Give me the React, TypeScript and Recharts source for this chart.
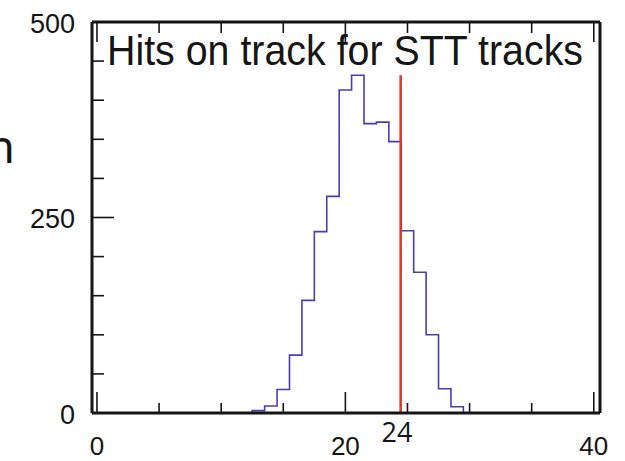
import React from "react";
import {
  ComposedChart,
  Line,
  XAxis,
  YAxis,
  ReferenceLine,
} from "recharts";

// bin centres (width 1) and entries per bin
const bins = [12, 13, 14, 15, 16, 17, 18, 19, 20, 21, 22, 23, 24, 25, 26, 27, 28, 29, 30];
const counts = [0, 3, 9, 30, 74, 144, 232, 277, 413, 432, 370, 372, 347, 233, 180, 100, 31, 8, 0];

const xTicks = [0, 5, 10, 15, 20, 25, 30, 35, 40];
const xLabels = [0, 20, 40];
const yTicks = [0, 50, 100, 150, 200, 250, 300, 350, 400, 450, 500];
const yLabels = [0, 250, 500];

const cutValue = 24.45;
const cutLabel = "24";
const cutTop = 432;

const title = "Hits on track for STT tracks";

const data = bins.map((b, i) => ({ bin: b, count: counts[i] }));

const FONT = "'Liberation Sans', Arial, sans-serif";
const INK = "#151515";

const BottomTick = (props: any) => {
  const { x, y, payload } = props;
  const major = xLabels.includes(payload.value);
  return (
    <g>
      <line x1={x} x2={x} y1={y} y2={y - (major ? 21 : 10)} stroke={INK} strokeWidth={1.6} />
      {major && (
        <text x={x} y={y + 42} textAnchor="middle" fontSize={26} fontFamily={FONT} fill={INK}>
          {payload.value}
        </text>
      )}
    </g>
  );
};

const TopTick = (props: any) => {
  const { x, y, payload } = props;
  const major = xLabels.includes(payload.value);
  return <line x1={x} x2={x} y1={y} y2={y + (major ? 20 : 11)} stroke={INK} strokeWidth={1.6} />;
};

const LeftTick = (props: any) => {
  const { x, y, payload } = props;
  const major = yLabels.includes(payload.value);
  return (
    <g>
      <line x1={x} x2={x + (major ? 22 : 12)} y1={y} y2={y} stroke={INK} strokeWidth={1.6} />
      {major && (
        <text x={x - 17} y={y + 10.5} textAnchor="end" fontSize={27} fontFamily={FONT} fill={INK}>
          {payload.value}
        </text>
      )}
    </g>
  );
};

const RightTick = (props: any) => {
  const { x, y, payload } = props;
  const major = yLabels.includes(payload.value);
  return <line x1={x} x2={x - (major ? 14 : 10)} y1={y} y2={y} stroke={INK} strokeWidth={1.6} />;
};

const frame = { stroke: INK, strokeWidth: 3 };

export default function App() {
  return (
    <div style={{ position: "absolute", left: 0, top: 0, background: "#fff" }}>
      <ComposedChart
        width={625}
        height={461}
        data={data}
        margin={{ top: 21, right: 24, bottom: 47, left: 91 }}
      >
        <XAxis
          dataKey="bin"
          type="number"
          domain={[-0.4, 40.5]}
          ticks={xTicks}
          allowDataOverflow
          height={1}
          tickSize={0}
          tickMargin={0}
          tickLine={false}
          axisLine={frame}
          tick={<BottomTick />}
          interval={0}
        />
        <XAxis
          xAxisId="top"
          orientation="top"
          dataKey="bin"
          type="number"
          domain={[-0.4, 40.5]}
          ticks={xTicks}
          allowDataOverflow
          height={1}
          tickSize={0}
          tickMargin={0}
          tickLine={false}
          axisLine={frame}
          tick={<TopTick />}
          interval={0}
        />
        <YAxis
          type="number"
          domain={[0, 500]}
          ticks={yTicks}
          width={1}
          tickSize={0}
          tickMargin={0}
          tickLine={false}
          axisLine={frame}
          tick={<LeftTick />}
          interval={0}
        />
        <YAxis
          yAxisId="right"
          orientation="right"
          type="number"
          domain={[0, 500]}
          ticks={yTicks}
          width={1}
          tickSize={0}
          tickMargin={0}
          tickLine={false}
          axisLine={frame}
          tick={<RightTick />}
          interval={0}
        />
        <Line
          dataKey="count"
          type="step"
          stroke="#4a3cb8"
          strokeWidth={1.6}
          dot={false}
          activeDot={false}
          isAnimationActive={false}
        />
        <ReferenceLine
          segment={[
            { x: cutValue, y: 0 },
            { x: cutValue, y: cutTop },
          ]}
          stroke="#d63a28"
          strokeWidth={2.5}
        />
        <text x={397} y={442} textAnchor="middle" fontSize={27} fontFamily="'Open Sans', sans-serif" fill={INK}>
          {cutLabel}
        </text>
        <text
          x={107}
          y={65}
          fontSize={42}
          fontFamily={FONT}
          fill={INK}
          textLength={476}
          lengthAdjust="spacingAndGlyphs"
        >
          {title}
        </text>
        <text x={15} y={163} textAnchor="end" fontSize={46} fontFamily="'Noto Sans', sans-serif" fill={INK}>
          n
        </text>
      </ComposedChart>
    </div>
  );
}
